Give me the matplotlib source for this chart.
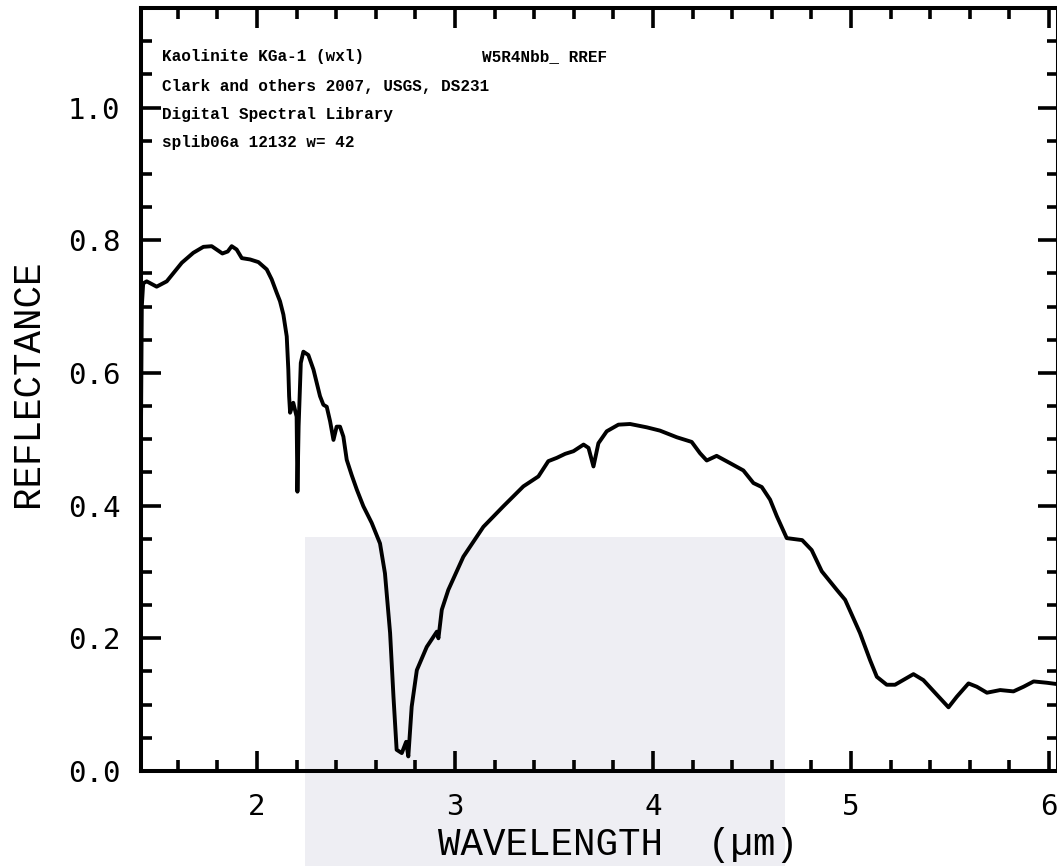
import matplotlib
matplotlib.use("Agg")
import matplotlib.pyplot as plt
from matplotlib.ticker import MultipleLocator, FormatStrFormatter
from matplotlib.patches import Rectangle

# Kaolinite KGa-1 reflectance spectrum
wavelength = [1.414, 1.418, 1.425, 1.443, 1.493, 1.544, 1.620, 1.678, 1.729, 1.771,
              1.825, 1.852, 1.872, 1.897, 1.923, 1.965, 2.007, 2.049, 2.074, 2.099,
              2.116, 2.133, 2.150, 2.158, 2.162, 2.167, 2.183, 2.200, 2.204, 2.210,
              2.221, 2.234, 2.259, 2.285, 2.318, 2.335, 2.352, 2.369, 2.386, 2.402,
              2.419, 2.436, 2.453, 2.478, 2.504, 2.537, 2.579, 2.621, 2.646, 2.672,
              2.689, 2.705, 2.731, 2.753, 2.764, 2.781, 2.807, 2.857, 2.908, 2.916,
              2.933, 2.966, 3.042, 3.143, 3.244, 3.345, 3.421, 3.471, 3.514, 3.556,
              3.598, 3.649, 3.674, 3.699, 3.724, 3.766, 3.825, 3.884, 3.968, 4.035,
              4.120, 4.195, 4.237, 4.271, 4.321, 4.389, 4.456, 4.507, 4.549, 4.591,
              4.625, 4.675, 4.753, 4.801, 4.852, 4.928, 4.970, 5.045, 5.096, 5.130,
              5.180, 5.222, 5.315, 5.365, 5.433, 5.492, 5.534, 5.593, 5.635, 5.686,
              5.753, 5.820, 5.871, 5.922, 5.989, 6.040]
reflectance = [0.520, 0.700, 0.735, 0.738, 0.730, 0.738, 0.766, 0.781, 0.790, 0.791,
               0.780, 0.783, 0.791, 0.786, 0.773, 0.771, 0.767, 0.756, 0.741, 0.721,
               0.708, 0.688, 0.655, 0.605, 0.565, 0.540, 0.555, 0.534, 0.421, 0.520,
               0.615, 0.632, 0.627, 0.605, 0.565, 0.552, 0.549, 0.527, 0.499, 0.519,
               0.519, 0.504, 0.469, 0.446, 0.424, 0.399, 0.374, 0.343, 0.298, 0.208,
               0.112, 0.032, 0.027, 0.044, 0.022, 0.097, 0.152, 0.187, 0.210, 0.200,
               0.243, 0.273, 0.323, 0.368, 0.399, 0.429, 0.444, 0.467, 0.472, 0.478,
               0.482, 0.492, 0.487, 0.459, 0.494, 0.512, 0.522, 0.523, 0.518, 0.513,
               0.503, 0.496, 0.479, 0.468, 0.475, 0.464, 0.453, 0.434, 0.428, 0.409,
               0.384, 0.351, 0.348, 0.333, 0.301, 0.273, 0.258, 0.208, 0.167, 0.142,
               0.130, 0.130, 0.146, 0.137, 0.115, 0.096, 0.112, 0.132, 0.127, 0.118,
               0.122, 0.120, 0.127, 0.135, 0.133, 0.131]

header_left = ["Kaolinite KGa-1 (wxl)",
               "Clark and others 2007, USGS, DS231",
               "Digital Spectral Library",
               "splib06a 12132 w= 42"]
header_right = "W5R4Nbb_ RREF"

W, H = 1057, 866
fig = plt.figure(figsize=(W / 100, H / 100), dpi=100)
fig.patch.set_facecolor("white")

# faint watermark block behind the plot
fig.patches.append(Rectangle((305 / W, 0), 480 / W, (H - 537) / H,
                             transform=fig.transFigure, facecolor="#eeeef3",
                             edgecolor="none", zorder=-5))

ax = fig.add_axes([141 / W, 95 / H, (1058 - 141) / W, (771 - 8) / H])
ax.set_zorder(2)
ax.set_facecolor("none")
ax.plot(wavelength, reflectance, color="black", lw=2.8, solid_joinstyle="round")

ax.set_xlim(1.414, 6.045)
ax.set_ylim(0, 1.15)

ax.xaxis.set_major_locator(MultipleLocator(1))
ax.xaxis.set_minor_locator(MultipleLocator(0.2))
ax.yaxis.set_major_locator(MultipleLocator(0.2))
ax.yaxis.set_minor_locator(MultipleLocator(0.05))
ax.yaxis.set_major_formatter(FormatStrFormatter("%.1f"))
ax.xaxis.set_major_formatter(FormatStrFormatter("%d"))

ax.tick_params(which="both", direction="in", top=True, right=True, width=2.6)
ax.tick_params(which="major", length=14.5)
ax.tick_params(which="minor", length=8)
ax.tick_params(axis="y", which="major", pad=15)
ax.tick_params(axis="x", which="major", pad=16)
for lab in ax.get_xticklabels() + ax.get_yticklabels():
    lab.set_fontfamily("DejaVu Sans Mono")
    lab.set_fontsize(21)

for sp in ax.spines.values():
    sp.set_linewidth(2.9)

ax.set_xlabel("WAVELENGTH  (\u00b5m)", family="Liberation Mono", fontsize=27,
              va="center", ha="center")
ax.set_ylabel("REFLECTANCE", family="Liberation Mono", fontsize=27,
              va="center", ha="center")
ax.xaxis.set_label_coords((618 - 141) / (1058 - 141), -(845 - 771) / (771 - 8))
ax.yaxis.set_label_coords(-(141 - 28) / (1058 - 141), (771 - 383) / (771 - 8))

line_y = [57, 86, 114, 143]
for txt, yy in zip(header_left, line_y):
    fig.text(162 / W, 1 - yy / H, txt, family="Liberation Mono", weight="bold",
             fontsize=11.5, va="center", ha="left")
fig.text(482 / W, 1 - line_y[0] / H, header_right, family="Liberation Mono",
         weight="bold", fontsize=11.5, va="center", ha="left")

fig.savefig("out.png", dpi=100)
